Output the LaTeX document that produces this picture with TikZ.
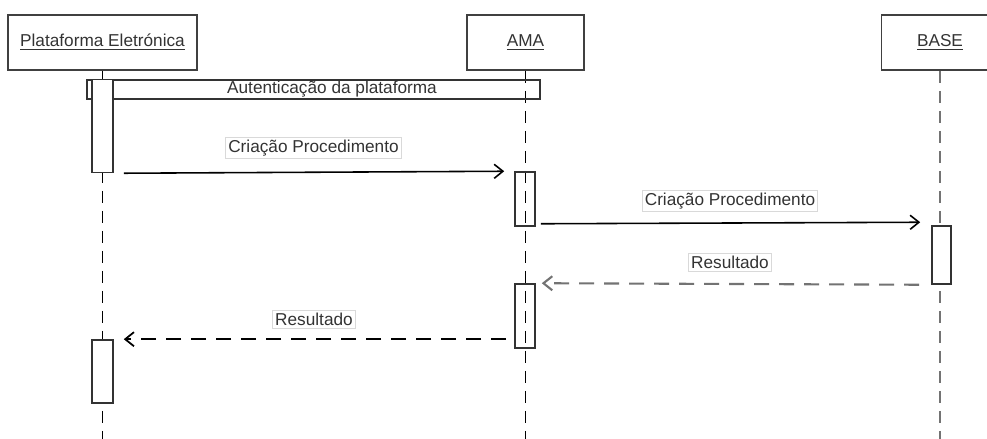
\documentclass[tikz,border=0pt]{standalone}
\usepackage{fontspec}
\setmainfont{Liberation Sans}
\usetikzlibrary{arrows.meta}
\begin{document}
\begin{tikzpicture}[
        every node/.style={font=\fontsize{9.8}{11}\selectfont, text=black!80},
        actor/.style={draw=black!75, line width=1pt, minimum height=1.1cm, inner sep=0pt},
        lifeline/.style={draw=black, line width=0.9pt, dash pattern=on 0.24cm off 0.16cm},
        act/.style={draw=black!80, line width=0.9pt, minimum width=0.42cm, inner sep=0pt},
        msg/.style={draw=black, line width=0.9pt, -{Straight Barb[length=5pt,width=8pt]}},
        reply/.style={msg, line width=1pt, dash pattern=on 0.3cm off 0.2cm},
        tag/.style={draw=black!15, fill=white, inner sep=1.5pt}
    ]
    \useasboundingbox (0, 0) rectangle (19.74, 8.78);
    % participants
    \node (plat) at (2.05, 7.93) [actor, minimum width=3.78cm] {\underline{Plataforma Eletrónica}};
    \node (ama) at (10.51, 7.93) [actor, minimum width=2.34cm] {\underline{AMA}};
    \node (base) at (18.8, 7.93) [actor, minimum width=2.34cm] {\underline{BASE}};
    \coordinate (platend) at (2.05, 0);
    \coordinate (amaend) at (10.51, 0);
    \coordinate (baseend) at (18.8, 0);
    \draw[lifeline] (plat.south) -- (platend);
    \draw[lifeline] (ama.south) -- (amaend);
    \draw[lifeline, draw=black!55, line width=1.1pt] (base.south) -- (baseend);
    % frame
    \node (auth) at (6.27, 6.99) [draw=black!80, line width=0.9pt, minimum width=9.06cm, minimum height=0.38cm] {};
    \node (authtext) at (6.64, 6.99) {Autenticação da plataforma};
    % activations
    \node (plat1) at (2.05, 6.26) [act, fill=white, minimum height=1.86cm] {};
    \node (ama1) at (10.5, 4.8) [act, minimum width=0.4cm, minimum height=1.08cm] {};
    \node (base1) at (18.83, 3.68) [act, fill=white, minimum width=0.38cm, minimum height=1.16cm] {};
    \node (ama2) at (10.5, 2.46) [act, minimum width=0.4cm, minimum height=1.28cm] {};
    \node (plat2) at (2.05, 1.35) [act, fill=white, minimum height=1.26cm] {};
    % messages
    \draw[msg, shorten <=0.2cm, shorten >=0.2cm] (plat1.south east) -- (ama1.north west);
    \draw[msg, shorten <=0.1cm, shorten >=0.22cm] ([yshift=0.06cm]ama1.south east) -- ([yshift=0.06cm]base1.north west);
    \draw[reply, draw=black!55, line width=1.2pt, shorten <=0.24cm, shorten >=0.12cm] (base1.south west) -- (ama2.north east);
    \draw[reply, shorten <=0.16cm, shorten >=0.2cm] (ama2.south west |- plat2.north) -- (plat2.north east);
    \node (m1) at (6.27, 5.82) [tag] {Criação Procedimento};
    \node (m2) at (14.6, 4.76) [tag] {Criação Procedimento};
    \node (m3) at (14.6, 3.54) [tag] {Resultado};
    \node (m4) at (6.28, 2.4) [tag] {Resultado};
\end{tikzpicture}
\end{document}
